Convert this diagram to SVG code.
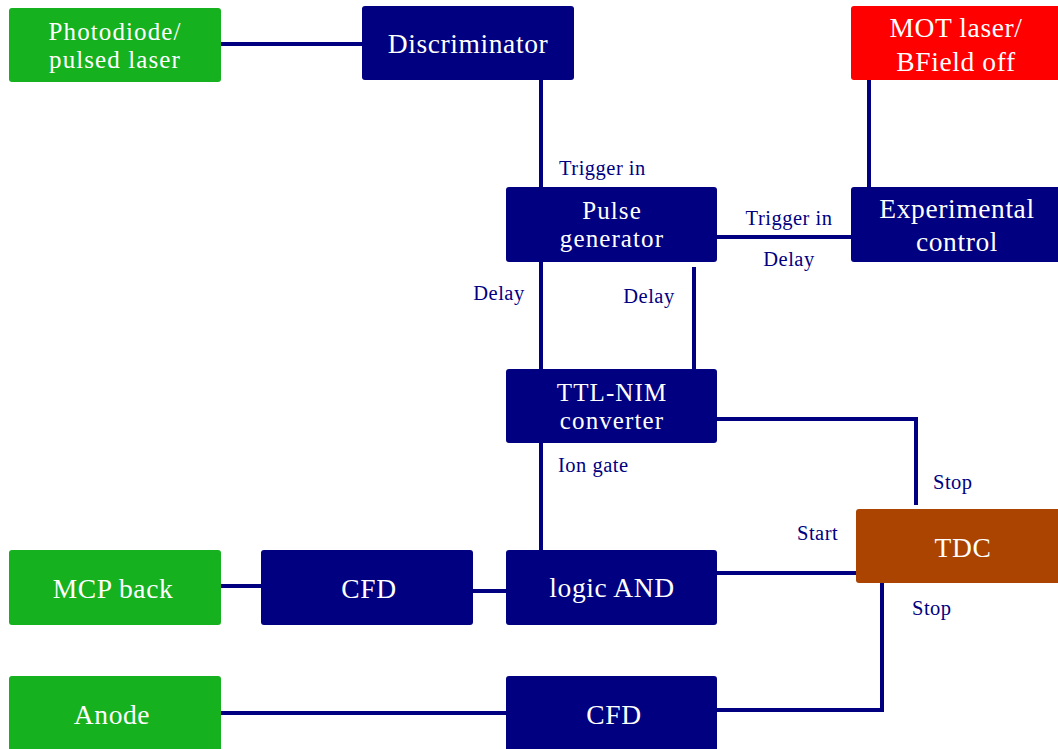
<svg xmlns="http://www.w3.org/2000/svg" width="1058" height="749" viewBox="0 0 1058 749">
  <style>
    .box { stroke: none; }
    .navy { fill: #000080; }
    .green { fill: #16b11f; }
    .red { fill: #ff0000; }
    .brown { fill: #aa4400; }
    .t { font-family: "Liberation Serif", "Times New Roman", serif; font-size: 27.5px; letter-spacing: 0.6px; fill: #ffffff; text-anchor: middle; }
    /* tighter two-line labels */
    .t2 { font-size: 25px; letter-spacing: 1.1px; }
    .lbl { font-family: "Liberation Serif", "Times New Roman", serif; font-size: 20.5px; letter-spacing: 0.5px; fill: #000080; }
    .mid { text-anchor: middle; }
    .wire { fill: none; stroke: #000080; stroke-width: 4; }
  </style>
  <rect width="1058" height="749" fill="#ffffff"/>

  <!-- connectors -->
  <g id="connectors">
    <path class="wire" d="M218 44 H362"/>
    <path class="wire" d="M541 80 V187"/>
    <path class="wire" d="M717 237 H851"/>
    <path class="wire" d="M869 80 V187"/>
    <path class="wire" d="M541 262 V369"/>
    <path class="wire" d="M694 267 V369"/>
    <path class="wire" d="M717 419 H916 V505"/>
    <path class="wire" d="M541 443 V550"/>
    <path class="wire" d="M221 586 H261"/>
    <path class="wire" d="M473 591 H506"/>
    <path class="wire" d="M717 573 H856"/>
    <path class="wire" d="M882 583 V710 H717"/>
    <path class="wire" d="M220 713 H506"/>
  </g>

  <!-- connector labels -->
  <g id="labels">
    <text class="lbl" x="559" y="175">Trigger in</text>
    <text class="lbl mid" x="789" y="225">Trigger in</text>
    <text class="lbl mid" x="789" y="266">Delay</text>
    <text class="lbl mid" x="499" y="300">Delay</text>
    <text class="lbl mid" x="649" y="303">Delay</text>
    <text class="lbl" x="558" y="472">Ion gate</text>
    <text class="lbl" x="933" y="489">Stop</text>
    <text class="lbl" x="797" y="540">Start</text>
    <text class="lbl" x="912" y="615">Stop</text>
  </g>

  <!-- nodes -->
  <g id="photodiode">
    <rect class="box green" x="9" y="8" width="212" height="74" rx="3"/>
    <text class="t t2" y="39.5"><tspan x="115">Photodiode/</tspan><tspan x="115" dy="28">pulsed laser</tspan></text>
  </g>
  <g id="discriminator">
    <rect class="box navy" x="362" y="6" width="212" height="74" rx="3"/>
    <text class="t" x="468" y="53">Discriminator</text>
  </g>
  <g id="mot">
    <rect class="box red" x="851" y="6" width="212" height="74" rx="3"/>
    <text class="t" y="37"><tspan x="956">MOT laser/</tspan><tspan x="956" dy="34">BField off</tspan></text>
  </g>
  <g id="pulse-generator">
    <rect class="box navy" x="506" y="187" width="211" height="75" rx="3"/>
    <text class="t t2" y="218.5"><tspan x="612">Pulse</tspan><tspan x="612" dy="28">generator</tspan></text>
  </g>
  <g id="experimental-control">
    <rect class="box navy" x="851" y="187" width="212" height="75" rx="3"/>
    <text class="t" y="218"><tspan x="957">Experimental</tspan><tspan x="957" dy="33">control</tspan></text>
  </g>
  <g id="ttl-nim">
    <rect class="box navy" x="506" y="369" width="211" height="74" rx="3"/>
    <text class="t t2" y="401"><tspan x="612">TTL-NIM</tspan><tspan x="612" dy="28">converter</tspan></text>
  </g>
  <g id="mcp-back">
    <rect class="box green" x="9" y="550" width="212" height="75" rx="3"/>
    <text class="t" x="113" y="598">MCP back</text>
  </g>
  <g id="cfd-mcp">
    <rect class="box navy" x="261" y="550" width="212" height="75" rx="3"/>
    <text class="t" x="369" y="598">CFD</text>
  </g>
  <g id="logic-and">
    <rect class="box navy" x="506" y="550" width="211" height="75" rx="3"/>
    <text class="t" x="612" y="597">logic AND</text>
  </g>
  <g id="tdc">
    <rect class="box brown" x="856" y="509" width="207" height="74" rx="3"/>
    <text class="t" x="963" y="557">TDC</text>
  </g>
  <g id="anode">
    <rect class="box green" x="9" y="676" width="212" height="78" rx="3"/>
    <text class="t" x="112" y="724">Anode</text>
  </g>
  <g id="cfd-anode">
    <rect class="box navy" x="506" y="676" width="211" height="78" rx="3"/>
    <text class="t" x="614" y="724">CFD</text>
  </g>
</svg>
